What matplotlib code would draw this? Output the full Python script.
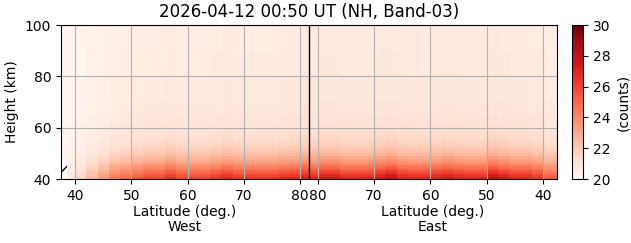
import numpy as np
import matplotlib
matplotlib.use("Agg")
import matplotlib.pyplot as plt
import matplotlib.transforms as mtransforms

# ---------------- data ----------------
title = "2026-04-12 00:50 UT (NH, Band-03)"
lat_max = 81.55            # highest latitude reached (pole-side turning point)

# column edges (latitude, deg) for the West and East halves
west_lat_edges = [37.5, 38.5, 40, 42, 44, 46, 48, 50, 52, 54, 56, 58, 60, 62,
                  64, 66, 68, 70, 72, 74, 76, 78, 80, 81.55]
east_lat_edges = [81.55, 80, 78, 76, 74, 72, 70, 68, 66, 64, 62, 60, 58, 56,
                  54, 52, 50, 48, 46, 44, 42, 40, 37.5]

# height band edges (km)
height_edges = [40, 41, 42, 43, 44, 45, 46, 47, 48, 49, 50, 51, 52, 53, 54,
                55, 56, 57, 58, 59, 60, 62, 65, 70, 80, 90, 100]

# counts in the lowest band (40-41 km), West columns (south -> north)
west_bottom = [20.5, 20.6, 21.5, 22.5, 23.5, 24.5, 25.0, 25.5, 26.0, 26.0,
               26.6, 26.0, 26.0, 26.0, 26.5, 27.0, 26.5, 26.5, 26.5, 26.5,
               26.8, 27.0, 27.3]
# East columns (north -> south)
east_bottom = [27.0, 27.5, 27.5, 27.0, 27.0, 27.0, 27.5, 28.0, 27.2, 27.0,
               27.0, 27.2, 27.5, 27.2, 27.0, 27.0, 28.0, 27.5, 27.0, 27.0,
               26.5, 25.5]
# fraction of the bottom excess above background kept in each height band
profile = [1.0, 0.92, 0.83, 0.75, 0.67, 0.60, 0.53, 0.47, 0.42, 0.37, 0.33,
           0.30, 0.27, 0.25, 0.23, 0.21, 0.20, 0.19, 0.18, 0.17, 0.16, 0.15,
           0.13, 0.11, 0.10, 0.09]
background = 20.0
# West column with no data in the lowest bands (hatched)
west_missing_bands = 8

west_ticks = [40, 50, 60, 70, 80]
east_ticks = [80, 70, 60, 50, 40]
cbar_ticks = [20, 22, 24, 26, 28, 30]

# ---------------- build fields ----------------
def field(bottom):
    b = np.array(bottom, dtype=float)
    p = np.array(profile)
    return background + np.outer(p, b - background)

west = field(west_bottom)
west[:west_missing_bands, 0] = np.nan
east = field(east_bottom)

west_s = np.array(west_lat_edges)
east_s = 2 * lat_max - np.array(east_lat_edges)

fig = plt.figure(figsize=(6.31, 2.43), dpi=100)
ax = fig.add_axes([0.0967, 0.263, 0.786, 0.634])
cax = fig.add_axes([0.9065, 0.263, 0.0174, 0.634])

ax.patch.set_hatch('//')
ax.patch.set_edgecolor('black')
ax.patch.set_facecolor('white')

m = ax.pcolormesh(west_s, height_edges, west, cmap='Reds', vmin=20, vmax=30)
ax.pcolormesh(east_s, height_edges, east, cmap='Reds', vmin=20, vmax=30)
ax.axvline(lat_max, color='black', lw=1.0, zorder=3)

ax.set_xlim(west_lat_edges[0], 2 * lat_max - east_lat_edges[-1])
ax.set_ylim(40, 100)
xt = list(west_ticks) + [2 * lat_max - v for v in east_ticks]
ax.set_xticks(xt)
ax.set_xticklabels([str(v) for v in west_ticks + east_ticks])
ax.set_yticks([40, 60, 80, 100])
ax.grid(True, color='#b0b0b0', lw=0.8)
for ln in ax.get_xgridlines() + ax.get_ygridlines():
    ln.set_zorder(2)
for sp in ax.spines.values():
    sp.set_zorder(5)
ax.set_ylabel("Height (km)")
ax.set_title(title, fontsize=12)

trans = mtransforms.blended_transform_factory(ax.transData, ax.transAxes)
wc = (west_lat_edges[0] + lat_max) / 2
ec = 2 * lat_max - wc
ax.text(wc, -0.17, "Latitude (deg.)\nWest", transform=trans, ha='center',
        va='top', fontsize=10, linespacing=1.1)
ax.text(ec, -0.17, "Latitude (deg.)\nEast", transform=trans, ha='center',
        va='top', fontsize=10, linespacing=1.1)

cb = fig.colorbar(m, cax=cax, ticks=cbar_ticks)
cb.set_label("(counts)")

fig.savefig("out.png", dpi=100)
